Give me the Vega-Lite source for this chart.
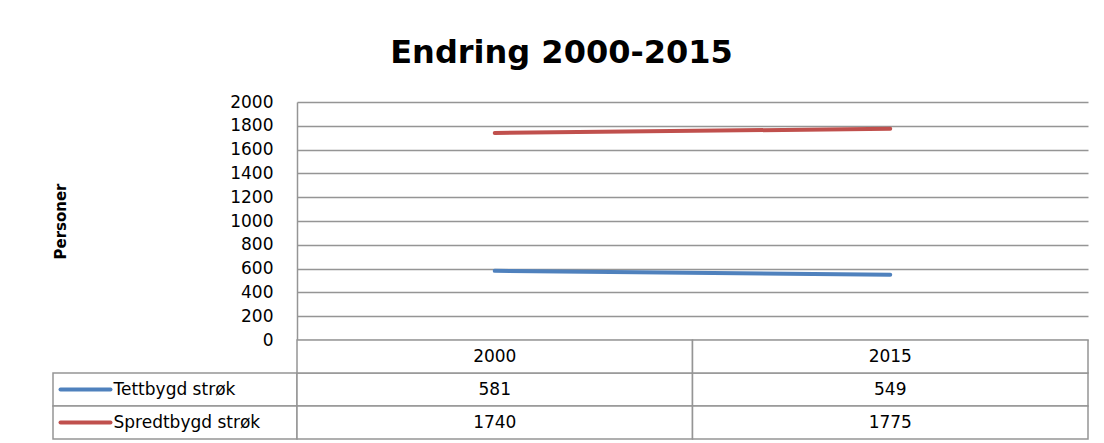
{
  "$schema": "https://vega.github.io/schema/vega-lite/v6.json",
  "background": "white",
  "padding": {"left": 52, "top": 37, "right": 17, "bottom": 4},
  "autosize": {"type": "pad"},
  "datasets": {
    "main": [
      {"serie": "Tettbygd strøk", "year": "2000", "value": 581},
      {"serie": "Tettbygd strøk", "year": "2015", "value": 549},
      {"serie": "Spredtbygd strøk", "year": "2000", "value": 1740},
      {"serie": "Spredtbygd strøk", "year": "2015", "value": 1775}
    ]
  },
  "title": {
    "text": "Endring 2000-2015",
    "font": "DejaVu Sans",
    "fontWeight": "bold",
    "fontSize": 32,
    "color": "#000000",
    "anchor": "middle",
    "offset": 23,
    "dx": -9
  },
  "config": {"view": {"stroke": null}},
  "bounds": "flush",
  "columns": 2,
  "spacing": 0,
  "concat": [
    {
      "width": 244,
      "height": 238,
      "data": {"values": []},
      "mark": {"type": "text"},
      "encoding": {}
    },
    {
      "width": 791,
      "height": 238,
      "data": {"name": "main"},
      "mark": {"type": "line", "strokeWidth": 4, "strokeCap": "round"},
      "encoding": {
        "x": {
          "field": "year",
          "type": "ordinal",
          "scale": {"type": "band", "paddingInner": 0, "paddingOuter": 0},
          "axis": null
        },
        "y": {
          "field": "value",
          "type": "quantitative",
          "scale": {"domain": [0, 2000], "nice": false},
          "axis": {
            "values": [0, 200, 400, 600, 800, 1000, 1200, 1400, 1600, 1800, 2000],
            "format": "d",
            "title": "Personer",
            "grid": true,
            "gridColor": "#959595",
            "gridWidth": 1.5,
            "domain": true,
            "domainColor": "#959595",
            "domainWidth": 1.5,
            "ticks": false,
            "tickSize": 0,
            "labelPadding": 24,
            "labelFlush": false,
            "labelOverlap": false,
            "labelFont": "DejaVu Sans",
            "labelFontSize": 17,
            "labelColor": "#000000",
            "titleFont": "DejaVu Sans",
            "titleFontWeight": "bold",
            "titleFontSize": 15,
            "titleColor": "#000000",
            "titleX": -229
          }
        },
        "color": {
          "field": "serie",
          "type": "nominal",
          "scale": {"domain": ["Tettbygd strøk", "Spredtbygd strøk"], "range": ["#4F81BD", "#C0504D"]},
          "legend": null
        }
      }
    },
    {
      "width": 244,
      "height": 99,
      "data": {"name": "main"},
      "transform": [{"filter": "datum.year == '2000'"}],
      "mark": {"type": "rect", "fill": "white", "stroke": "#959595", "strokeWidth": 1.5},
      "encoding": {
        "y": {
          "field": "serie",
          "type": "nominal",
          "scale": {"domain": ["hdr", "Tettbygd strøk", "Spredtbygd strøk"], "paddingInner": 0, "paddingOuter": 0},
          "axis": {
            "orient": "left",
            "values": ["Tettbygd strøk", "Spredtbygd strøk"],
            "title": null,
            "domain": false,
            "grid": false,
            "ticks": true,
            "tickSize": -50,
            "tickWidth": 4,
            "tickCap": "round",
            "tickColor": {"condition": {"test": "datum.value == 'Tettbygd strøk'", "value": "#4F81BD"}, "value": "#C0504D"},
            "offset": -7,
            "labelAlign": "left",
            "labelBaseline": "middle",
            "labelPadding": -3,
            "labelFont": "DejaVu Sans",
            "labelFontSize": 17,
            "labelColor": "#000000",
            "zindex": 1
          }
        }
      }
    },
    {
      "width": 791,
      "height": 99,
      "data": {"name": "main"},
      "encoding": {
        "x": {
          "field": "year",
          "type": "ordinal",
          "scale": {"type": "band", "paddingInner": 0, "paddingOuter": 0},
          "axis": null
        }
      },
      "layer": [
        {
          "mark": {"type": "rect", "fill": "white", "stroke": "#959595", "strokeWidth": 1.5},
          "encoding": {
            "y": {"field": "serie", "type": "nominal", "scale": {"domain": ["hdr", "Tettbygd strøk", "Spredtbygd strøk"], "paddingInner": 0, "paddingOuter": 0}, "axis": null}
          }
        },
        {
          "mark": {"type": "text", "font": "DejaVu Sans", "fontSize": 17, "color": "#000000"},
          "encoding": {
            "y": {"field": "serie", "type": "nominal", "scale": {"domain": ["hdr", "Tettbygd strøk", "Spredtbygd strøk"], "paddingInner": 0, "paddingOuter": 0}, "axis": null},
            "text": {"field": "value", "type": "quantitative", "format": "d"}
          }
        },
        {
          "transform": [{"filter": "datum.serie == 'Tettbygd strøk'"}],
          "mark": {"type": "rect", "fill": "white", "stroke": "#959595", "strokeWidth": 1.5},
          "encoding": {
            "y": {"datum": "hdr", "type": "nominal", "axis": null}
          }
        },
        {
          "transform": [{"filter": "datum.serie == 'Tettbygd strøk'"}],
          "mark": {"type": "text", "font": "DejaVu Sans", "fontSize": 17, "color": "#000000"},
          "encoding": {
            "y": {"datum": "hdr", "type": "nominal", "axis": null},
            "text": {"field": "year", "type": "nominal"}
          }
        }
      ]
    }
  ]
}
